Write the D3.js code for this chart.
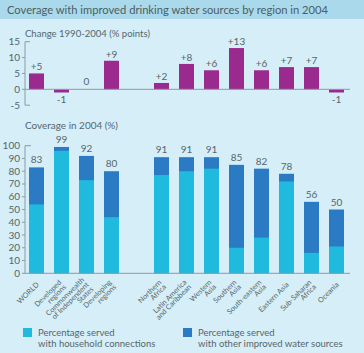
<!DOCTYPE html>
<html><head><meta charset="utf-8">
<script src="https://cdn.jsdelivr.net/npm/d3@7"></script>
<style>html,body{margin:0;padding:0;background:#d5eef8;}svg{display:block;}</style>
</head><body>
<script>
const categories = ["WORLD","Developed regions","Commonwealth of Independent States","Developing regions","Northern Africa","Latin America and Caribbean","Western Asia","Southern Asia","South-eastern Asia","Eastern Asia","Sub-Saharan Africa","Oceania"];
const labelLines = [["WORLD"],["Developed","regions"],["Commonwealth","of Independent","States"],["Developing","regions"],["Northern","Africa"],["Latin America","and Caribbean"],["Western","Asia"],["Southern","Asia"],["South-eastern","Asia"],["Eastern Asia"],["Sub-Saharan","Africa"],["Oceania"]];
const change = [5,-1,0,9,2,8,6,13,6,7,7,-1];
const total = [83,99,92,80,91,91,91,85,82,78,56,50];
const household = [54,96,73,44,77,80,82,20,28,72,16,21];
const changeTicks = [-5,0,5,10,15];
const coverageTicks = [0,10,20,30,40,50,60,70,80,90,100];
const title = "Coverage with improved drinking water sources by region in 2004";
const legendLabels = [["Percentage served","with household connections"],["Percentage served","with other improved water sources"]];

const W=364,H=353;
const bg="#d5eef8", band="#a9d9ea", purple="#9b2a8f", light="#1fbade", dark="#2a7bc4", axisC="#8b9ca3", textC="#56666c";
const font="Lato, 'Open Sans', sans-serif";

const svg=d3.select("body").append("svg").attr("width",W).attr("height",H).style("font-family",font);
svg.append("rect").attr("width",W).attr("height",H).attr("fill",bg);
svg.append("rect").attr("width",W).attr("height",19).attr("fill",band);
svg.append("text").attr("x",7).attr("y",14).attr("font-size",11).attr("fill","#4d5d63")
  .attr("textLength",321).attr("lengthAdjust","spacingAndGlyphs").text(title);

// x band with gap slot after Developing regions
const slots = categories.slice(0,4).concat(["__gap"]).concat(categories.slice(4));
const x=d3.scaleBand().domain(slots).range([24,349]).paddingInner(0.4).paddingOuter(0.2);

// ---- Top chart
const yT=d3.scaleLinear().domain([-5,15]).range([105.2,41.7]);
svg.append("text").attr("x",25).attr("y",37).attr("font-size",10).attr("fill",textC)
  .attr("textLength",125).attr("lengthAdjust","spacingAndGlyphs").text("Change 1990-2004 (% points)");
const gT=svg.append("g");
gT.append("line").attr("x1",25).attr("x2",25).attr("y1",yT(15)).attr("y2",yT(-5)).attr("stroke",axisC);
changeTicks.forEach(t=>{
  const end = (t===15||t===-5);
  gT.append("line").attr("x1",end?25:22).attr("x2",end?30:25).attr("y1",yT(t)).attr("y2",yT(t)).attr("stroke",axisC);
  gT.append("text").attr("x",20).attr("y",yT(t)).attr("dy","0.35em").attr("text-anchor","end")
    .attr("font-size",10).attr("fill",textC).text(t);
});
gT.selectAll("rect.c").data(categories).join("rect").attr("class","c")
  .attr("x",d=>x(d)).attr("width",x.bandwidth())
  .attr("y",(d,i)=>yT(Math.max(0,change[i]))).attr("height",(d,i)=>Math.abs(yT(change[i])-yT(0)))
  .attr("fill",purple);
gT.append("line").attr("x1",25).attr("x2",350).attr("y1",yT(0)).attr("y2",yT(0)).attr("stroke",axisC);
gT.selectAll("text.v").data(categories).join("text").attr("class","v")
  .attr("x",d=>x(d)+x.bandwidth()/2)
  .attr("y",(d,i)=>change[i]>0?yT(change[i])-3:(change[i]<0?yT(change[i])+10:yT(0)-4))
  .attr("text-anchor","middle").attr("font-size",10).attr("fill",textC)
  .text((d,i)=>change[i]>0?"+"+change[i]:String(change[i]));

// ---- Bottom chart
const yB=d3.scaleLinear().domain([0,100]).range([273.3,145.7]);
svg.append("text").attr("x",25).attr("y",129).attr("font-size",10).attr("fill",textC)
  .attr("textLength",93).attr("lengthAdjust","spacingAndGlyphs").text("Coverage in 2004 (%)");
const gB=svg.append("g");
gB.append("line").attr("x1",25).attr("x2",25).attr("y1",yB(100)).attr("y2",yB(0)).attr("stroke",axisC);
coverageTicks.forEach(t=>{
  const end=(t===100);
  gB.append("line").attr("x1",end?25:22).attr("x2",end?31:25).attr("y1",yB(t)).attr("y2",yB(t)).attr("stroke",axisC);
  gB.append("text").attr("x",20).attr("y",yB(t)).attr("dy","0.35em").attr("text-anchor","end")
    .attr("font-size",10).attr("fill",textC).text(t);
});
gB.selectAll("rect.t").data(categories).join("rect").attr("class","t")
  .attr("x",d=>x(d)).attr("width",x.bandwidth())
  .attr("y",(d,i)=>yB(total[i])).attr("height",(d,i)=>yB(0)-yB(total[i])).attr("fill",dark);
gB.selectAll("rect.h").data(categories).join("rect").attr("class","h")
  .attr("x",d=>x(d)).attr("width",x.bandwidth())
  .attr("y",(d,i)=>yB(household[i])).attr("height",(d,i)=>yB(0)-yB(household[i])).attr("fill",light);
gB.append("line").attr("x1",25).attr("x2",350).attr("y1",yB(0)).attr("y2",yB(0)).attr("stroke",axisC);
gB.selectAll("text.v").data(categories).join("text").attr("class","v")
  .attr("x",d=>x(d)+x.bandwidth()/2).attr("y",(d,i)=>yB(total[i])-4)
  .attr("text-anchor","middle").attr("font-size",10).attr("fill",textC).text((d,i)=>total[i]);

// x labels
categories.forEach((c,i)=>{
  const n=labelLines[i].length, lh=0.9;
  const g=gB.append("g").attr("transform",`translate(${x(c)+x.bandwidth()/2+1},${yB(0)+10}) rotate(-45)`);
  const t=g.append("text").attr("text-anchor","end").attr("font-size",7.3).attr("fill",textC);
  labelLines[i].forEach((l,j)=>{
    t.append("tspan").attr("x",0).attr("dy",j===0?(0.35-(n-1)*lh/2)+"em":lh+"em").text(l);
  });
});

// legend
legendLabels.forEach((ls,i)=>{
  const lx=i===0?23:183;
  svg.append("rect").attr("x",lx).attr("y",328).attr("width",9).attr("height",9).attr("fill",i===0?light:dark);
  const t=svg.append("text").attr("font-size",9.5).attr("fill",textC);
  ls.forEach((l,j)=>t.append("tspan").attr("x",lx+15).attr("y",336+j*10.5).text(l));
});
</script>
</body></html>
